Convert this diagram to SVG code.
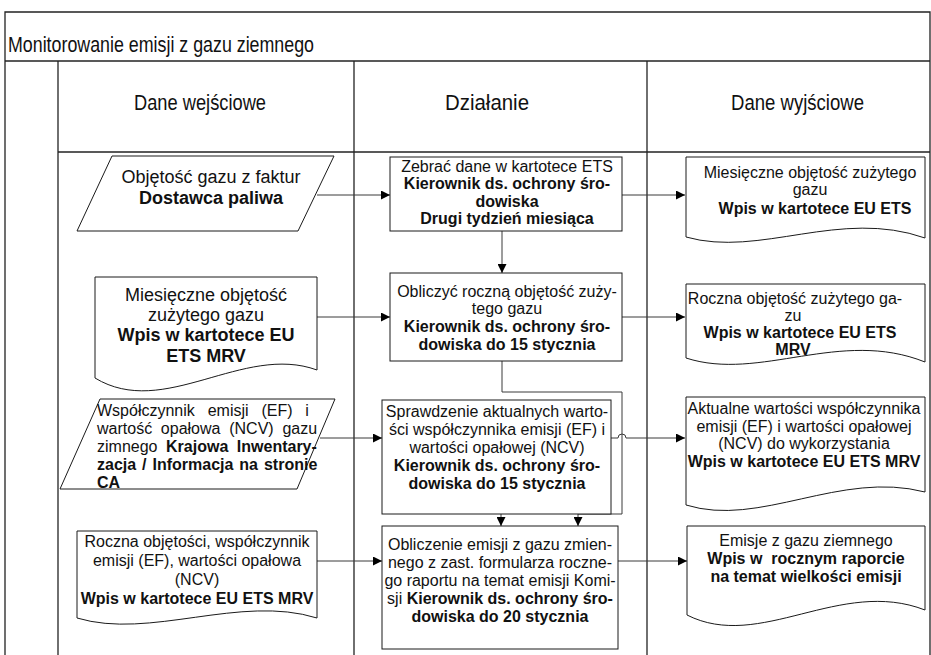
<svg xmlns="http://www.w3.org/2000/svg" width="931" height="655" viewBox="0 0 931 655">
<style>
.frame{fill:none;stroke:#222;stroke-width:1.3}
.node{fill:#fff;stroke:#1a1a1a;stroke-width:1}
.conn{fill:none;stroke:#3a3a3a;stroke-width:1}
text{font-family:"Liberation Sans",Arial,sans-serif;fill:#111;font-size:16px}
.nar{font-family:"Liberation Sans Narrow","Arial Narrow","Liberation Sans",sans-serif;font-size:22px}
.t18{font-size:18px}
.b{font-weight:bold}
.c{text-anchor:middle}
</style>
<defs>
<marker id="arr" markerWidth="9" markerHeight="9" refX="9" refY="4.5" orient="auto" markerUnits="userSpaceOnUse">
<path d="M0,0 L9,4.5 L0,9 Z" fill="#000"/>
</marker>
</defs>
<rect width="931" height="655" fill="#fff"/>
<g id="swimlane">
<path class="frame" d="M5,655 V12 H930 V655"/>
<path class="frame" d="M5,61 H930"/>
<path class="frame" d="M58,61 V655"/>
<path class="frame" d="M354,61 V655"/>
<path class="frame" d="M647,61 V655"/>
<path class="frame" d="M58,152 H930"/>
<text class="nar" x="8" y="52" textLength="306" lengthAdjust="spacingAndGlyphs">Monitorowanie emisji z gazu ziemnego</text>
<text class="nar" x="134" y="110" textLength="132" lengthAdjust="spacingAndGlyphs">Dane wejściowe</text>
<text class="nar" x="445" y="110" textLength="84" lengthAdjust="spacingAndGlyphs">Działanie</text>
<text class="nar" x="731" y="110" textLength="133" lengthAdjust="spacingAndGlyphs">Dane wyjściowe</text>
</g>
<g id="connectors">
<path class="conn" d="M317,195 H390" marker-end="url(#arr)"/>
<path class="conn" d="M622,195 H685" marker-end="url(#arr)"/>
<path class="conn" d="M502,231 V273" marker-end="url(#arr)"/>
<path class="conn" d="M317,317 H390" marker-end="url(#arr)"/>
<path class="conn" d="M622,317 H685" marker-end="url(#arr)"/>
<path class="conn" d="M502,361 V392 H622 V514 H578 V526" marker-end="url(#arr)"/>
<path class="conn" d="M320,438 H382" marker-end="url(#arr)"/>
<path class="conn" d="M611,438 H618 A4,4 0 0 1 626,438 H685" marker-end="url(#arr)"/>
<path class="conn" d="M501,514 V526" marker-end="url(#arr)"/>
<path class="conn" d="M317,561 H382" marker-end="url(#arr)"/>
<path class="conn" d="M618,561 H687" marker-end="url(#arr)"/>
</g>
<g id="in1">
<polygon class="node" points="112,156 334,156 298,231 77,231"/>
<text class="c t18" x="211" y="183">Objętość gazu z faktur</text>
<text class="c t18 b" x="211" y="204">Dostawca paliwa</text>
</g>
<g id="act1">
<rect class="node" x="390" y="157" width="232" height="74"/>
<text class="c" x="507" y="172">Zebrać dane w kartotece ETS</text>
<text class="c b" x="507" y="189">Kierownik ds. ochrony śro-</text>
<text class="c b" x="507" y="207">dowiska</text>
<text class="c b" x="507" y="224">Drugi tydzień miesiąca</text>
</g>
<g id="out1">
<path class="node" d="M686,157 H925 V238 C840,208 760,258 686,237 Z"/>
<text class="c" x="810" y="178">Miesięczne objętość zużytego</text>
<text class="c" x="810" y="195">gazu</text>
<text class="c b" x="815" y="214">Wpis w kartotece EU ETS</text>
</g>
<g id="in2">
<path class="node" d="M95,277 H317 V370 C243,343 164,420 95,378 Z"/>
<text class="c t18" x="206" y="301">Miesięczne objętość</text>
<text class="c t18" x="206" y="321">zużytego gazu</text>
<text class="c t18 b" x="206" y="341">Wpis w kartotece EU</text>
<text class="c t18 b" x="206" y="362">ETS MRV</text>
</g>
<g id="act2">
<rect class="node" x="390" y="273" width="232" height="88"/>
<text class="c" x="507" y="297">Obliczyć roczną objętość zuży-</text>
<text class="c" x="507" y="314">tego gazu</text>
<text class="c b" x="507" y="332">Kierownik ds. ochrony śro-</text>
<text class="c b" x="507" y="350">dowiska do 15 stycznia</text>
</g>
<g id="out2">
<path class="node" d="M686,284 H925 V362 C840,328 760,382 686,358 Z"/>
<text class="c" x="795" y="304">Roczna objętość zużytego ga-</text>
<text class="c" x="793" y="321">zu</text>
<text class="c b" x="800" y="338">Wpis w kartotece EU ETS</text>
<text class="c b" x="793" y="355">MRV</text>
</g>
<g id="in3">
<polygon class="node" points="100,399 335,399 297,489 60,489"/>
<text x="97" y="416" style="word-spacing:8.4px">Współczynnik emisji (EF) i</text>
<text x="97" y="434" style="word-spacing:4.3px">wartość opałowa (NCV) gazu</text>
<text x="97" y="452" style="word-spacing:4.1px">zimnego <tspan class="b">Krajowa Inwentary-</tspan></text>
<text class="b" x="97" y="470" style="word-spacing:1.5px">zacja / Informacja na stronie</text>
<text class="b" x="97" y="488">CA</text>
</g>
<g id="act3">
<rect class="node" x="382" y="400" width="229" height="114"/>
<text class="c" x="497" y="417">Sprawdzenie aktualnych warto-</text>
<text class="c" x="497" y="435">ści współczynnika emisji (EF) i</text>
<text class="c" x="497" y="453">wartości opałowej (NCV)</text>
<text class="c b" x="497" y="471">Kierownik ds. ochrony śro-</text>
<text class="c b" x="497" y="489">dowiska do 15 stycznia</text>
</g>
<g id="out3">
<path class="node" d="M686,397 H925 V492 C840,470 760,528 686,505 Z"/>
<text class="c" x="804" y="414">Aktualne wartości współczynnika</text>
<text class="c" x="804" y="432">emisji (EF) i wartości opałowej</text>
<text class="c" x="804" y="449">(NCV) do wykorzystania</text>
<text class="c b" x="804" y="467">Wpis w kartotece EU ETS MRV</text>
</g>
<g id="in4">
<path class="node" d="M77,531 H317 V618 C240,594 150,640 77,618 Z"/>
<text class="c" x="197" y="547">Roczna objętości, współczynnik</text>
<text class="c" x="197" y="566">emisji (EF), wartości opałowa</text>
<text class="c" x="197" y="585">(NCV)</text>
<text class="c b" x="197" y="604">Wpis w kartotece EU ETS MRV</text>
</g>
<g id="act4">
<rect class="node" x="382" y="526" width="236" height="123"/>
<text class="c" x="500" y="550">Obliczenie emisji z gazu zmien-</text>
<text class="c" x="500" y="568">nego z zast. formularza roczne-</text>
<text class="c" x="500" y="586">go raportu na temat emisji Komi-</text>
<text class="c" x="500" y="604">sji <tspan class="b">Kierownik ds. ochrony śro-</tspan></text>
<text class="c b" x="500" y="622">dowiska do 20 stycznia</text>
</g>
<g id="out4">
<path class="node" d="M687,526 H925 V610 C840,577 760,652 687,615 Z"/>
<text class="c" x="806" y="546">Emisje z gazu ziemnego</text>
<text class="c b" x="806" y="564" style="white-space:pre">Wpis w  rocznym raporcie</text>
<text class="c b" x="806" y="582">na temat wielkości emisji</text>
</g>
</svg>
